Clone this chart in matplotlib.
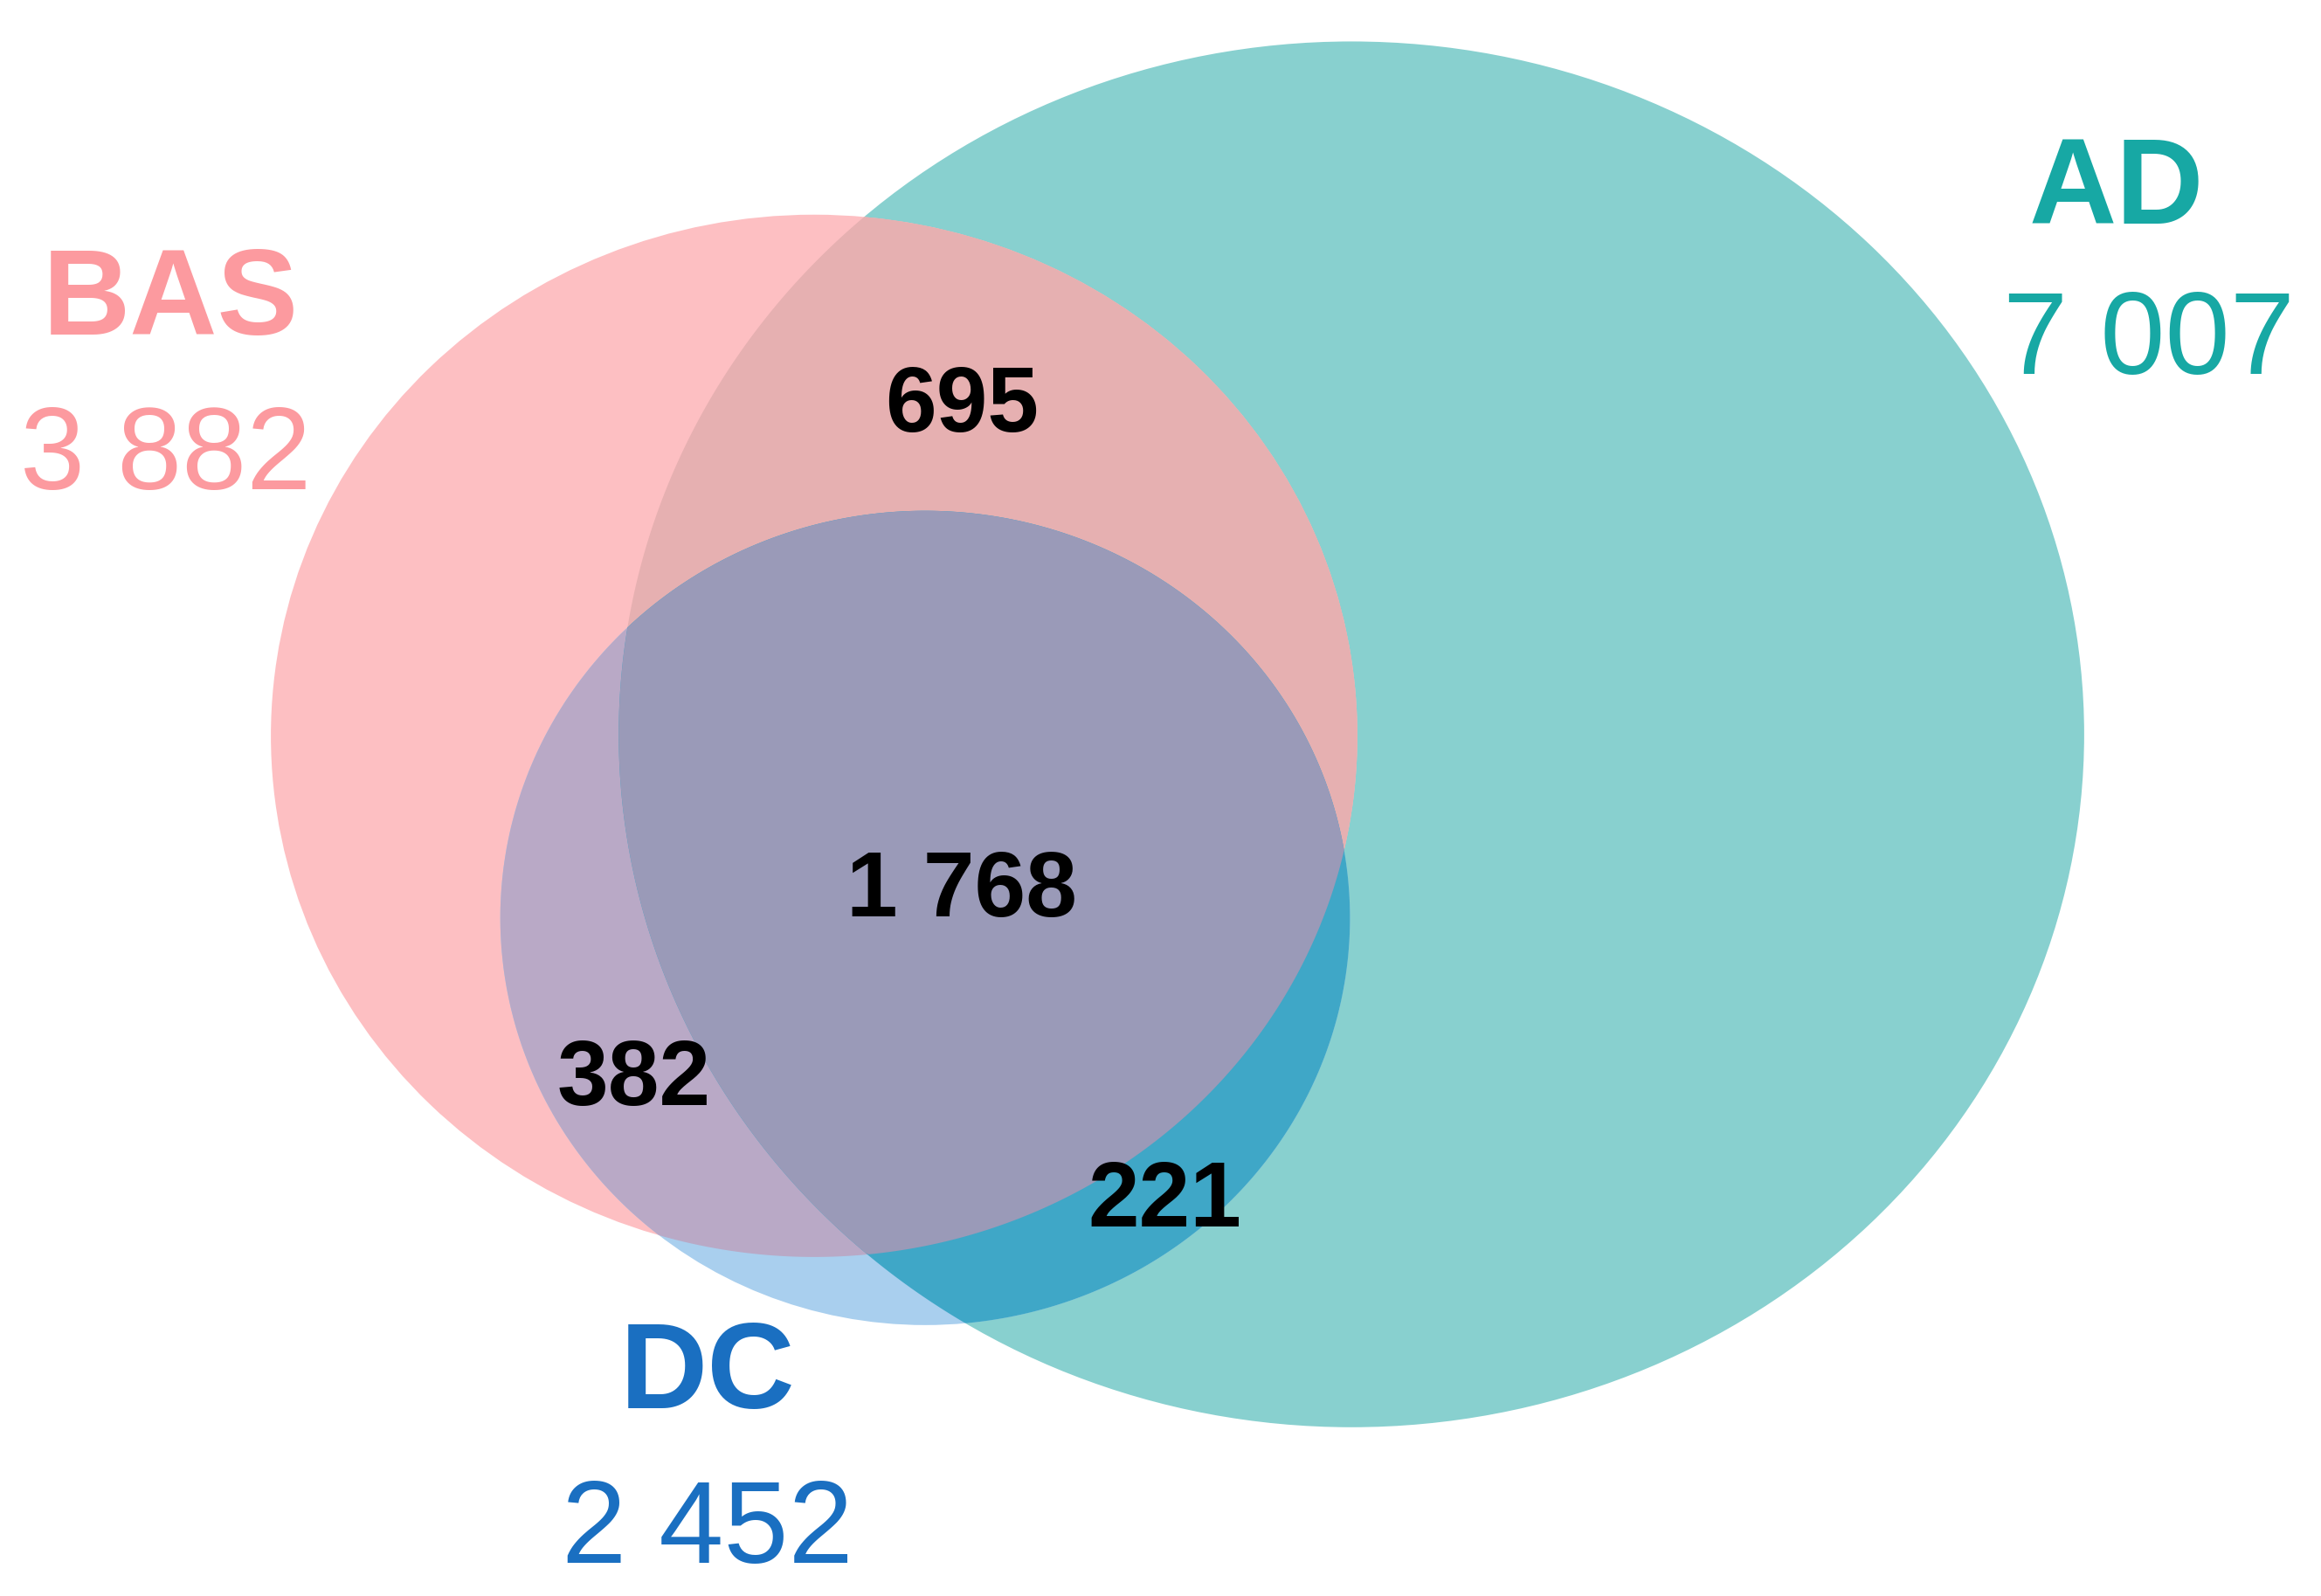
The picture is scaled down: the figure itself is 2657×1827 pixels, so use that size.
import numpy as np
import matplotlib.pyplot as plt
from matplotlib.patches import Ellipse, Polygon

plt.rcParams["font.family"] = ["Liberation Sans", "DejaVu Sans"]

# sets: name, count, label colour
set_names = ["BAS", "AD", "DC"]
set_counts = ["3 882", "7 007", "2 452"]
label_colors = ["#fc9a9f", "#17a8a4", "#1a6fc1"]

# overlap region values
region_labels = ["695", "1 768", "382", "221"]

# ellipse geometry (picture units, 1568 x 1078 frame)
centers = {"BAS": (550, 497), "AD": (913, 496), "DC": (625, 620)}
radii = {"BAS": (367, 352), "AD": (495, 468), "DC": (287, 275)}

# region colours
solo_colors = {"BAS": "#fdbfc2", "AD": "#88d0cf", "DC": "#a9cfee"}
pair_colors = {("BAS", "AD"): "#e6b0b1", ("BAS", "DC"): "#b9a9c6", ("AD", "DC"): "#3fa7c7"}
triple_color = "#9a9ab8"


def boundary(name, n=1500):
    t = np.linspace(0, 2 * np.pi, n, endpoint=False)
    cx, cy = centers[name]
    rx, ry = radii[name]
    return np.column_stack([cx + rx * np.cos(t), cy + ry * np.sin(t)])


def inside(pts, name):
    cx, cy = centers[name]
    rx, ry = radii[name]
    return ((pts[:, 0] - cx) / rx) ** 2 + ((pts[:, 1] - cy) / ry) ** 2 <= 1.0001


def intersection(names):
    pts = []
    for nm in names:
        b = boundary(nm)
        mask = np.ones(len(b), bool)
        for other in names:
            if other != nm:
                mask &= inside(b, other)
        pts.append(b[mask])
    pts = np.vstack(pts)
    c = pts.mean(axis=0)
    order = np.argsort(np.arctan2(pts[:, 1] - c[1], pts[:, 0] - c[0]))
    return pts[order]


fig = plt.figure(figsize=(26.57, 18.27), dpi=100)
ax = fig.add_axes([0, 0, 1, 1])
ax.set_xlim(0, 1568)
ax.set_ylim(1078, 0)
ax.axis("off")

for nm in ["AD", "BAS", "DC"]:
    ax.add_patch(Ellipse(centers[nm], 2 * radii[nm][0], 2 * radii[nm][1],
                         facecolor=solo_colors[nm], edgecolor="none"))
for (a, b), col in pair_colors.items():
    ax.add_patch(Polygon(intersection([a, b]), closed=True, facecolor=col, edgecolor="none"))
ax.add_patch(Polygon(intersection(set_names), closed=True, facecolor=triple_color, edgecolor="none"))

# set labels
name_pos = [(115, 205), (1430, 130), (478, 930)]
count_pos = [(112, 310), (1452, 232), (478, 1035)]
for nm, cnt, col, p1, p2 in zip(set_names, set_counts, label_colors, name_pos, count_pos):
    ax.text(*p1, nm, color=col, fontsize=100, fontweight="bold", ha="center", va="center")
    ax.text(*p2, cnt, color=col, fontsize=96, ha="center", va="center")

region_pos = [(650, 275), (650, 603), (428, 730), (787, 812)]
for lab, p in zip(region_labels, region_pos):
    ax.text(*p, lab, color="black", fontsize=76, fontweight="bold", ha="center", va="center")

fig.savefig("out.png", dpi=100)
